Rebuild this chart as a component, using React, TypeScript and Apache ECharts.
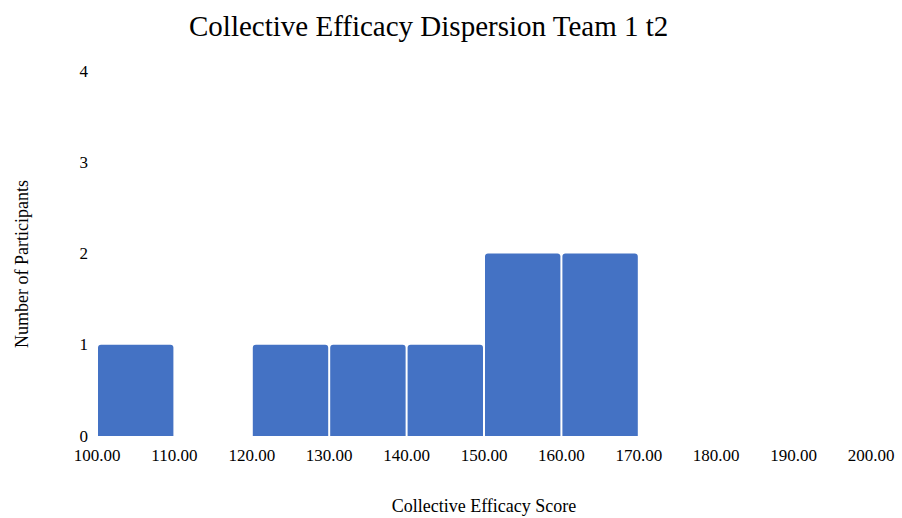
import React, { useEffect, useRef } from "react";
import * as echarts from "echarts";

const binStarts = [100, 110, 120, 130, 140, 150, 160, 170, 180, 190];
const binWidth = 10;
const counts = [1, 0, 1, 1, 1, 2, 2, 0, 0, 0];
const yTicks = [0, 1, 2, 3, 4];

const FONT = "'Liberation Serif', 'Times New Roman', serif";

export default function App() {
  const ref = useRef<HTMLDivElement>(null);
  useEffect(() => {
    const chart = echarts.init(ref.current!, null, { renderer: "svg" });
    const data = binStarts.map((s, i) => [s, s + binWidth, counts[i]]);
    chart.setOption({
      animation: false,
      title: {
        text: "Collective Efficacy Dispersion Team 1 t2",
        left: 184,
        top: 6,
        textStyle: { fontFamily: FONT, fontSize: 29, fontWeight: "normal", color: "#000" },
      },
      graphic: [
        {
          type: "text",
          x: 22,
          y: 264,
          rotation: Math.PI / 2,
          style: {
            text: "Number of Participants",
            fontFamily: FONT,
            fontSize: 18,
            fill: "#000",
            align: "center",
            verticalAlign: "middle",
          },
        },
      ],
      grid: { left: 97, right: 31, top: 71, bottom: 82, outerBoundsMode: "none", containLabel: false },
      xAxis: {
        type: "value",
        min: 100,
        max: 200,
        interval: 10,
        name: "Collective Efficacy Score",
        nameLocation: "middle",
        nameGap: 61,
        nameTextStyle: { fontFamily: FONT, fontSize: 18, color: "#000" },
        axisLine: { show: false },
        axisTick: { show: false },
        splitLine: { show: false },
        axisLabel: {
          fontFamily: FONT,
          fontSize: 17,
          color: "#000",
          margin: 11,
          formatter: (v: number) => v.toFixed(2),
        },
      },
      yAxis: {
        type: "value",
        min: yTicks[0],
        max: yTicks[yTicks.length - 1],
        interval: 1,
        axisLine: { show: false },
        axisTick: { show: false },
        splitLine: { show: false },
        axisLabel: { fontFamily: FONT, fontSize: 17, color: "#000", margin: 9 },
      },
      series: [
        {
          type: "custom",
          data,
          encode: { x: [0, 1], y: 2 },
          renderItem: (params: any, api: any) => {
            const v = api.value(2);
            if (!v) return null;
            const p0 = api.coord([api.value(0), 0]);
            const p1 = api.coord([api.value(1), v]);
            const x = p0[0] + 1;
            const w = p1[0] - p0[0] - 2;
            return {
              type: "rect",
              shape: { x, y: p1[1], width: w, height: p0[1] - p1[1], r: [3, 3, 0, 0] },
              style: { fill: "#4472C4" },
            };
          },
        },
      ],
    });
    return () => chart.dispose();
  }, []);
  return (
    <div
      ref={ref}
      style={{ position: "absolute", left: 0, top: 0, width: 902, height: 518 }}
    />
  );
}
